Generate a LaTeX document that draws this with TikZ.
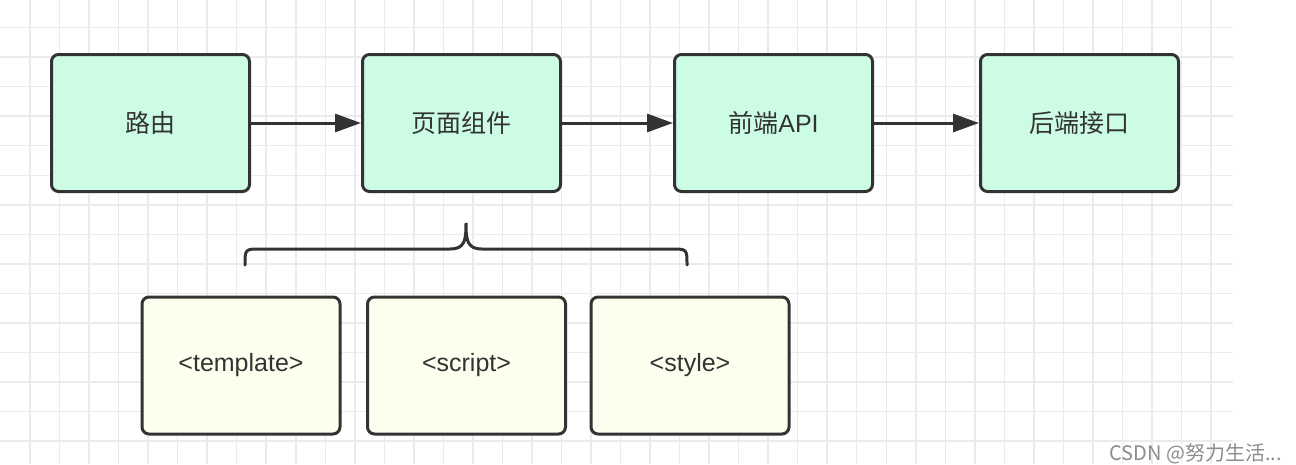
\documentclass[tikz,border=0pt]{standalone}
\usepackage{fontspec}
\setmainfont{Liberation Sans}
\newfontfamily\cjk{Noto Sans CJK SC}
\usetikzlibrary{arrows.meta}
\definecolor{gridc}{HTML}{EBEBEB}
\definecolor{edgec}{HTML}{333333}
\definecolor{mint}{HTML}{CCFCE4}
\definecolor{cream}{HTML}{FDFFEE}
\definecolor{wmark}{HTML}{8C8C8C}
\tikzset{
  gridline/.style={draw=gridc, line width=1.5pt},
  topbox/.style={draw=edgec, fill=mint, line width=3pt, rounded corners=7pt,
    minimum width=198pt, minimum height=137pt, inner sep=0pt, text=edgec,
    font=\fontsize{25}{30}\selectfont},
  subbox/.style={topbox, fill=cream},
  flow/.style={draw=edgec, line width=3pt, -{Triangle[length=26pt,width=18pt]}},
  bracel/.style={draw=edgec, line width=3pt, line cap=round},
}
\begin{document}
\begin{tikzpicture}[x=1pt,y=-1pt]
\useasboundingbox[fill=white] (0,0) rectangle (1296,464);
% grid
\foreach \k in {1,...,41} \draw[gridline] ({29.525*\k+0.5},0) -- ({29.525*\k+0.5},464);
\foreach \k in {0,...,14} \draw[gridline] (0,{27.5+29.55*\k}) -- (1233,{27.5+29.55*\k});
% top row
\node[topbox] (route) at (150.5,123) {\cjk 路由};
\node[topbox] (page)  at (461.5,123) {\cjk 页面组件};
\node[topbox] (fapi)  at (773.5,123) {{\cjk 前端}API};
\node[topbox] (bapi)  at (1079.5,123) {\cjk 后端接口};
\draw[flow] (route) -- (page);
\draw[flow] (page) -- (fapi);
\draw[flow] (fapi) -- (bapi);
% bottom row
\node[subbox] (tpl) at (241,365.5) {<template>};
\node[subbox] (scr) at (466.5,365.5) {<script>};
\node[subbox] (sty) at (690,365.5) {<style>};
% brace
\coordinate (bl) at (245,265);
\coordinate (bt) at (466,223);
\coordinate (br) at (687,265);
\draw[bracel] (bl) .. controls (245,249) .. (261,249) -- (450,249)
  .. controls (465,249) and (466,240) .. (bt)
  .. controls (466,240) and (467,249) .. (482,249) -- (671,249)
  .. controls (687,249) .. (br);
% watermark
\node[anchor=base east, inner sep=0pt, text=wmark, font=\cjk\fontsize{20}{22}\selectfont] (wm) at (1282,460) {CSDN @努力生活...};
\end{tikzpicture}
\end{document}
